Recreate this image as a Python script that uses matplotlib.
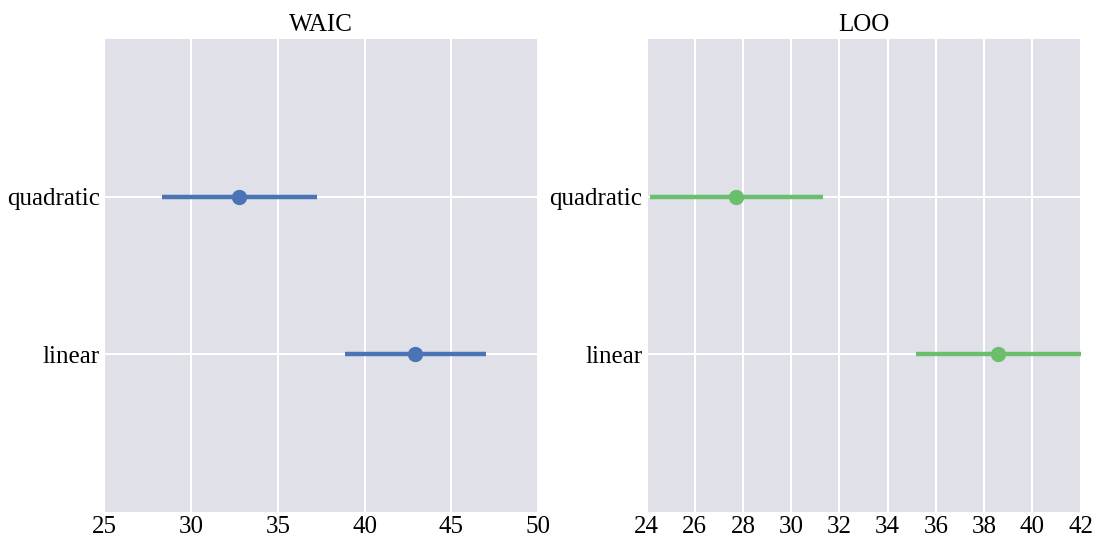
import matplotlib
matplotlib.use("Agg")
import matplotlib.pyplot as plt
import seaborn as sns

sns.set_style("darkgrid")
plt.rcParams["font.family"] = ["Liberation Serif", "DejaVu Serif"]

models = ["linear", "quadratic"]
waic = [42.93, 32.76]
waic_lo = [38.85, 28.33]
waic_hi = [47.0, 37.24]
loo = [38.58, 27.72]
loo_lo = [35.19, 24.13]
loo_hi = [42.0, 31.31]

waic_ticks = [25, 30, 35, 40, 45, 50]
loo_ticks = [24, 26, 28, 30, 32, 34, 36, 38, 40, 42]

BG = "#DFE0E8"
fig, axes = plt.subplots(1, 2, figsize=(10.97, 5.42), dpi=100)
fig.subplots_adjust(left=0.095, right=0.985, bottom=0.055, top=0.928, wspace=0.25)

panels = [
    (axes[0], "WAIC", waic, waic_lo, waic_hi, waic_ticks, "#4A74B6"),
    (axes[1], "LOO", loo, loo_lo, loo_hi, loo_ticks, "#6BBF6C"),
]
for ax, title, vals, lo, hi, ticks, col in panels:
    ax.set_facecolor(BG)
    ypos = list(range(len(models)))
    ax.hlines(ypos, lo, hi, color=col, lw=3.2, zorder=3)
    ax.plot(vals, ypos, "o", color=col, ms=10, zorder=4)
    ax.set_yticks(ypos)
    ax.set_yticklabels(models)
    ax.set_ylim(-1, 2)
    ax.set_xticks(ticks)
    ax.set_xlim(ticks[0], ticks[-1])
    ax.grid(color="white", lw=1.5)
    ax.tick_params(labelsize=18, length=0, pad=3, labelcolor="black")
    ax.set_title(title, fontsize=18, pad=6, color="black")
    for s in ax.spines.values():
        s.set_visible(False)

fig.savefig("out.png", dpi=100)
